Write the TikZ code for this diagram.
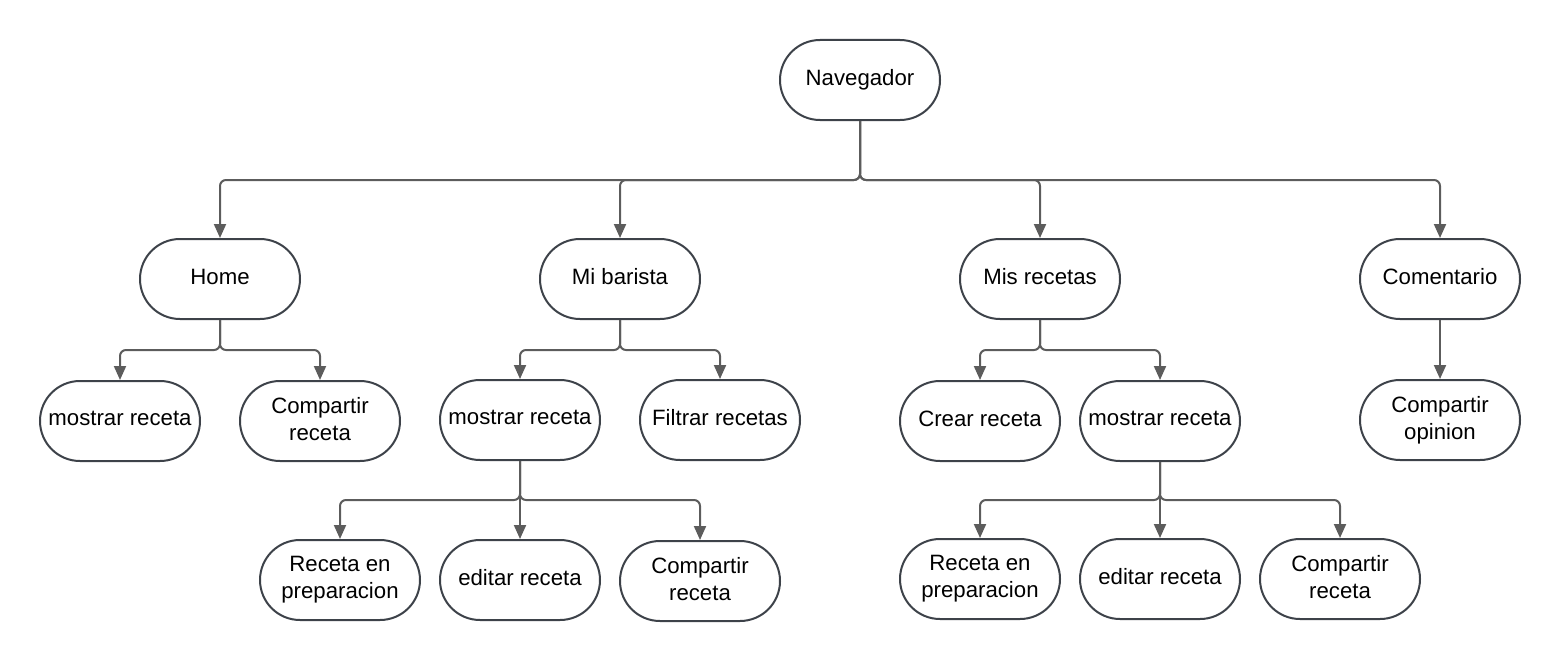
\documentclass[tikz,border=0pt]{standalone}
\usepackage{fontspec}
\setmainfont{Liberation Sans}
\usetikzlibrary{arrows.meta,calc}
\definecolor{nodeborder}{HTML}{3D4249}
\definecolor{conncol}{HTML}{5C5C5C}
\tikzset{
  box/.style={draw=nodeborder, line width=2pt, rounded corners=40pt, minimum width=160pt, minimum height=80pt, inner sep=0pt, align=center, font=\fontsize{22.2}{27}\selectfont, text=black, execute at end node={\rule[-4.8pt]{0pt}{4.8pt}}},
  conn/.style={draw=conncol, line width=2pt, rounded corners=6pt, -{Triangle[width=12pt,length=14pt]}}
}
\begin{document}
\begin{tikzpicture}[x=1pt,y=-1pt]
\useasboundingbox (0,0) rectangle (1560,661);
% level 0
\node[box] (nav) at (860,80) {Navegador};
% level 1
\node[box] (home) at (220,279) {Home};
\node[box] (mb) at (620,279) {Mi barista};
\node[box] (mr) at (1040,279) {Mis recetas};
\node[box] (com) at (1440,279) {Comentario};
% level 2
\node[box] (hmos) at (120,421) {mostrar receta};
\node[box] (hcomp) at (320,421) {Compartir\\receta};
\node[box] (bmos) at (520,420) {mostrar receta};
\node[box] (bfil) at (720,420) {Filtrar recetas};
\node[box] (rcre) at (980,421) {Crear receta};
\node[box] (rmos) at (1160,421) {mostrar receta};
\node[box] (cop) at (1440,420) {Compartir\\opinion};
% level 3
\node[box] (bprep) at (340,580) {Receta en\\preparacion};
\node[box] (bedit) at (520,580) {editar receta};
\node[box] (bcomp) at (700,581) {Compartir\\receta};
\node[box] (rprep) at (980,579) {Receta en\\preparacion};
\node[box] (redit) at (1160,579) {editar receta};
\node[box] (rcomp) at (1340,579) {Compartir\\receta};
% bus coordinates
\coordinate (b1) at (0,180);
\coordinate (b2) at (0,350);
\coordinate (b3) at (0,500);
% connectors
\draw[conn] (nav.south) |- (home.north |- b1) -- (home.north);
\draw[conn] (nav.south) |- (mb.north |- b1) -- (mb.north);
\draw[conn] (nav.south) |- (mr.north |- b1) -- (mr.north);
\draw[conn] (nav.south) |- (com.north |- b1) -- (com.north);
\draw[conn] (home.south) |- (hmos.north |- b2) -- (hmos.north);
\draw[conn] (home.south) |- (hcomp.north |- b2) -- (hcomp.north);
\draw[conn] (mb.south) |- (bmos.north |- b2) -- (bmos.north);
\draw[conn] (mb.south) |- (bfil.north |- b2) -- (bfil.north);
\draw[conn] (mr.south) |- (rcre.north |- b2) -- (rcre.north);
\draw[conn] (mr.south) |- (rmos.north |- b2) -- (rmos.north);
\draw[conn] (com.south) -- (cop.north);
\draw[conn] (bmos.south) |- (bprep.north |- b3) -- (bprep.north);
\draw[conn] (bmos.south) -- (bedit.north);
\draw[conn] (bmos.south) |- (bcomp.north |- b3) -- (bcomp.north);
\draw[conn] (rmos.south) |- (rprep.north |- b3) -- (rprep.north);
\draw[conn] (rmos.south) -- (redit.north);
\draw[conn] (rmos.south) |- (rcomp.north |- b3) -- (rcomp.north);
\end{tikzpicture}
\end{document}
